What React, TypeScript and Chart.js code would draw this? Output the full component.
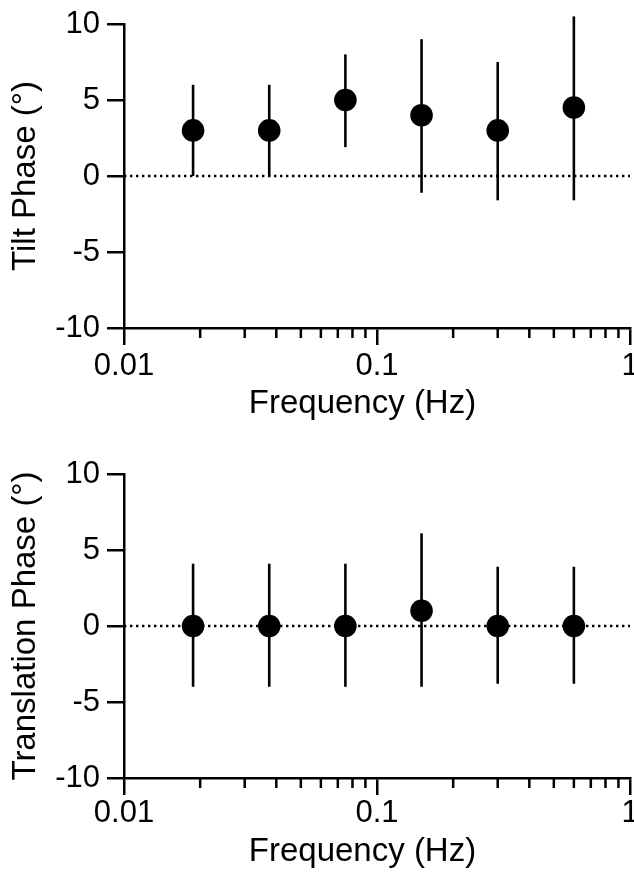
import React, { useEffect, useRef } from "react";
import { Chart, registerables } from "chart.js";

Chart.register(...registerables);

// ---- Data ----
const FREQUENCIES = [0.01875, 0.0375, 0.075, 0.15, 0.3, 0.6];

const TILT_PHASE = [3, 3, 5, 4, 3, 4.5];
const TILT_LOW = [0, 0, 1.9, -1.1, -1.6, -1.6];
const TILT_HIGH = [6, 6, 8, 9, 7.5, 10.5];

const TRANS_PHASE = [0, 0, 0, 1, 0, 0];
const TRANS_LOW = [-4, -4, -4, -4, -3.8, -3.8];
const TRANS_HIGH = [4.1, 4.1, 4.1, 6.1, 3.9, 3.9];

const X_MAJOR_TICKS = [0.01, 0.1, 1];
const X_MINOR_TICKS = [
  0.02, 0.03, 0.04, 0.05, 0.06, 0.07, 0.08, 0.09,
  0.2, 0.3, 0.4, 0.5, 0.6, 0.7, 0.8, 0.9,
];
const Y_TICKS = [-10, -5, 0, 5, 10];
const X_RANGE = [0.01, 1];
const Y_RANGE = [-10, 10];
const X_TITLE = "Frequency (Hz)";

const FONT = "'Liberation Sans', Arial, Helvetica, sans-serif";

const minorTickPlugin = {
  id: "minorTicks",
  afterDraw(chart: any) {
    const xs = chart.scales.x;
    const ctx = chart.ctx;
    const y0 = chart.chartArea.bottom;
    ctx.save();
    ctx.strokeStyle = "#000";
    ctx.lineWidth = 2.5;
    ctx.beginPath();
    for (const v of X_MINOR_TICKS) {
      const px = xs.getPixelForValue(v);
      ctx.moveTo(px, y0);
      ctx.lineTo(px, y0 + 10);
    }
    ctx.stroke();
    ctx.restore();
  },
};

// x-axis title, drawn slightly left of the axis centre as in the reference
const xTitlePlugin = {
  id: "xTitle",
  afterDraw(chart: any, _args: any, opts: any) {
    const ctx = chart.ctx;
    const area = chart.chartArea;
    ctx.save();
    ctx.fillStyle = "#000";
    ctx.font = `33px ${FONT}`;
    ctx.textAlign = "center";
    ctx.textBaseline = "middle";
    ctx.fillText(X_TITLE, (area.left + area.right) / 2 - 14.5, area.bottom + opts.offset);
    ctx.restore();
  },
};

type Params = {
  phase: number[];
  low: number[];
  high: number[];
  yTitle: string;
  height: number;
  padTop: number;
  padBottom: number;
  xScaleHeight: number;
  tickPad: number;
  titleOffset: number;
};

function buildConfig(p: Params): any {
  const datasets: any[] = [];
  datasets.push({
    type: "scatter",
    data: FREQUENCIES.map((f, i) => ({ x: f, y: p.phase[i] })),
    pointRadius: 11.3,
    pointBackgroundColor: "#000",
    pointBorderWidth: 0,
    pointBorderColor: "#000",
    showLine: false,
    clip: false,
  });
  FREQUENCIES.forEach((f, i) => {
    datasets.push({
      type: "line",
      data: [
        { x: f, y: p.low[i] },
        { x: f, y: p.high[i] },
      ],
      borderColor: "#000",
      borderWidth: 2.6,
      pointRadius: 0,
      showLine: true,
      clip: false,
    });
  });
  datasets.push({
    type: "line",
    data: [
      { x: X_RANGE[0], y: 0 },
      { x: X_RANGE[1], y: 0 },
    ],
    borderColor: "#000",
    borderWidth: 2.4,
    borderDash: [2.4, 3.6],
    pointRadius: 0,
    showLine: true,
  });

  return {
    type: "scatter",
    data: { datasets },
    plugins: [minorTickPlugin, xTitlePlugin],
    options: {
      animation: false,
      responsive: false,
      devicePixelRatio: 1,
      events: [],
      layout: {
        autoPadding: false,
        padding: { top: p.padTop, left: 0, right: 4, bottom: p.padBottom },
      },
      plugins: {
        legend: { display: false },
        tooltip: { enabled: false },
        xTitle: { offset: p.titleOffset },
      },
      scales: {
        x: {
          type: "logarithmic",
          min: X_RANGE[0],
          max: X_RANGE[1],
          afterBuildTicks: (scale: any) => {
            scale.ticks = X_MAJOR_TICKS.map((value) => ({ value }));
          },
          afterFit: (scale: any) => {
            scale.height = p.xScaleHeight;
            scale.paddingLeft = 0;
            scale.paddingRight = 0;
          },
          grid: {
            display: true,
            drawOnChartArea: false,
            drawTicks: true,
            tickLength: 17,
            lineWidth: 2.5,
            tickWidth: 2.5,
            tickColor: "#000",
            color: "#000",
          },
          border: { display: true, color: "#000", width: 2.5 },
          ticks: {
            autoSkip: false,
            maxRotation: 0,
            minRotation: 0,
            padding: p.tickPad,
            color: "#000",
            font: { family: FONT, size: 31, lineHeight: 1 },
            callback: (v: any) => String(Number(v)),
          },
          title: { display: false },
        },
        y: {
          type: "linear",
          min: Y_RANGE[0],
          max: Y_RANGE[1],
          afterBuildTicks: (scale: any) => {
            scale.ticks = Y_TICKS.map((value) => ({ value }));
          },
          afterFit: (scale: any) => {
            scale.width = 124;
            scale.paddingTop = 0;
            scale.paddingBottom = 0;
          },
          grid: {
            display: true,
            drawOnChartArea: false,
            drawTicks: true,
            tickLength: 17,
            lineWidth: 2.5,
            tickWidth: 2.5,
            tickColor: "#000",
            color: "#000",
          },
          border: { display: true, color: "#000", width: 2.5 },
          ticks: {
            padding: 7,
            color: "#000",
            font: { family: FONT, size: 31, lineHeight: 1 },
            callback: (v: any) => String(v),
          },
          title: {
            display: true,
            text: p.yTitle,
            color: "#000",
            font: { family: FONT, size: 33, lineHeight: 1 },
            padding: { top: 9.5, bottom: 0 },
          },
        },
      },
    },
  };
}

function PhaseChart({ params, top }: { params: Params; top: number }) {
  const ref = useRef<HTMLCanvasElement | null>(null);
  useEffect(() => {
    if (!ref.current) return;
    const chart = new Chart(ref.current, buildConfig(params));
    return () => chart.destroy();
  }, []);
  return (
    <canvas
      ref={ref}
      width={634}
      height={params.height}
      style={{ position: "absolute", left: 0, top, display: "block" }}
    />
  );
}

export default function App() {
  const topParams: Params = {
    phase: TILT_PHASE,
    low: TILT_LOW,
    high: TILT_HIGH,
    yTitle: "Tilt Phase (°)",
    height: 436,
    padTop: 24,
    padBottom: 13,
    xScaleHeight: 95,
    tickPad: 5.5,
    titleOffset: 76,
  };
  const bottomParams: Params = {
    phase: TRANS_PHASE,
    low: TRANS_LOW,
    high: TRANS_HIGH,
    yTitle: "Translation Phase (°)",
    height: 437,
    padTop: 38,
    padBottom: 0,
    xScaleHeight: 95,
    tickPad: 3,
    titleOffset: 73.5,
  };
  return (
    <div
      style={{
        position: "absolute",
        left: 0,
        top: 0,
        width: 634,
        height: 873,
        background: "#fff",
      }}
    >
      <PhaseChart params={topParams} top={0} />
      <PhaseChart params={bottomParams} top={436} />
    </div>
  );
}
